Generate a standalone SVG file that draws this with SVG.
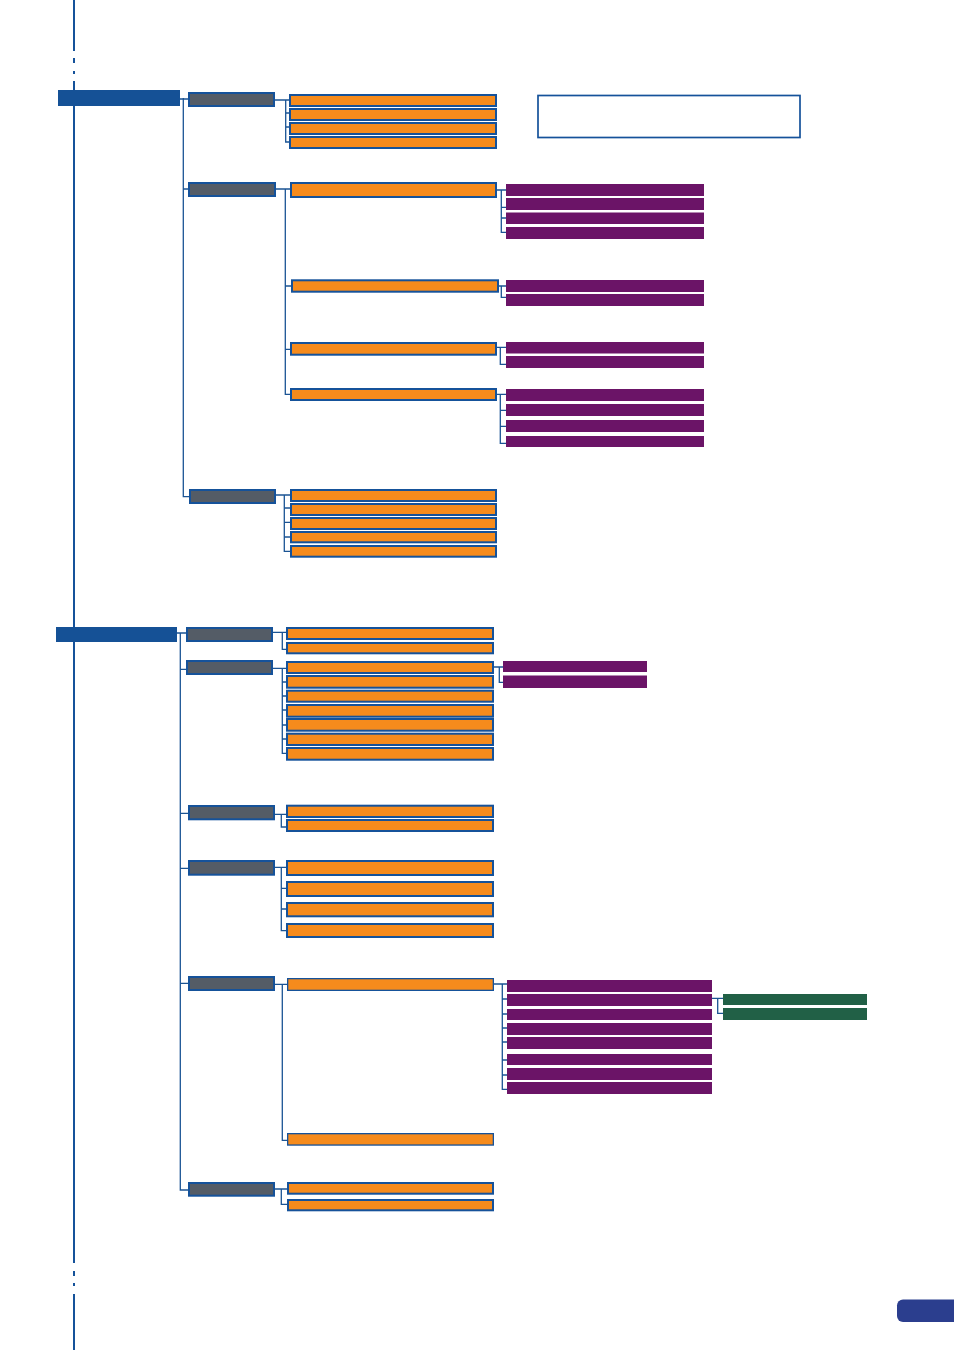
<svg xmlns="http://www.w3.org/2000/svg" width="954" height="1350" viewBox="0 0 954 1350">
<style>
.root{fill:#155196}
.g{fill:#545c66;stroke:#15529a;stroke-width:2}
.o{fill:#f68b1c;stroke:#15529a;stroke-width:2}
.ot{fill:#f68b1c;stroke:#15529a;stroke-width:1.3}
.p{fill:#6b1467}
.gr{fill:#216046}
.note{fill:#fff;stroke:#15529a;stroke-width:1.7}
.ln{fill:none;stroke:#1b5494;stroke-width:1.3}
.main{fill:none;stroke:#15529a;stroke-width:2}
</style>
<rect width="954" height="1350" fill="#fff"/>
<g id="margin-line">
<path class="main" d="M74 0V51M74 58V63M74 71V74M74 81V1263M74 1271V1276M74 1283V1286M74 1294V1350"/>
</g>
<g id="page-badge"><rect x="897" y="1299.5" width="70" height="22.5" rx="6" fill="#2b3e8e"/></g>

<g id="connectors">
<path class="ln" d="M180 99H188M183.3 98V496.7H189M183.3 189H188"/>
<path class="ln" d="M275 100H289M285.7 100V142H289M285.7 113H289M285.7 127H289"/>
<path class="ln" d="M276 189H290M285.3 189V394.3H290M285.3 286H291M285.3 349.3H290"/>
<path class="ln" d="M497 190H506M501.3 190V232.3H506M501.3 207.3H506M501.3 218H506"/>
<path class="ln" d="M499 286H506M501.3 286V297.3H506"/>
<path class="ln" d="M497 347.3H506M500.3 347.3V364.3H506"/>
<path class="ln" d="M497 394.3H506M500.3 394.3V443.3H506M500.3 410.3H506M500.3 426.3H506"/>
<path class="ln" d="M276 495H290M284.3 495V551.3H290M284.3 508H290M284.3 522.3H290M284.3 537H290"/>
<path class="ln" d="M177 633H186M180.3 633V1190H188M180.3 669.3H186M180.3 813.3H188M180.3 868.3H188M180.3 983.3H188"/>
<path class="ln" d="M273 632.3H286M282.3 632.3V649.3H286"/>
<path class="ln" d="M273 668.3H286M282.3 668.3V753.3H286M282.3 682H286M282.3 696H286M282.3 710H286M282.3 725H286M282.3 739H286"/>
<path class="ln" d="M494 667H503M499.3 667V682.3H503"/>
<path class="ln" d="M275 814.3H286M281.3 814.3V827H286"/>
<path class="ln" d="M275 867.3H286M281.3 867.3V930.7H286M281.3 888.3H286M281.3 909H286"/>
<path class="ln" d="M275 984.3H287M282.3 984.3V1140.3H287"/>
<path class="ln" d="M494 984H507M502.3 984V1089.3H507M502.3 999H507M502.3 1014H507M502.3 1028H507M502.3 1042H507M502.3 1060H507M502.3 1075H507"/>
<path class="ln" d="M712 998.3H723M717.7 998.3V1013.3H723"/>
<path class="ln" d="M275 1189H287M281.3 1189V1204.3H287"/>
</g>

<g id="root-1"><rect class="root" x="58" y="90" width="122" height="16"/></g>
<g id="note-box"><rect class="note" x="538" y="95.5" width="262" height="42"/></g>

<g id="t1"><rect class="g" x="189" y="93" width="85" height="13"/></g>
<g id="t1-items">
<rect class="o" x="290" y="95" width="206" height="11"/>
<rect class="o" x="290" y="109" width="206" height="11"/>
<rect class="o" x="290" y="123" width="206" height="11"/>
<rect class="o" x="290" y="137" width="206" height="11"/>
</g>

<g id="t2"><rect class="g" x="189" y="183" width="86" height="13"/></g>
<g id="t2a"><rect class="o" x="291" y="183" width="205" height="14"/></g>
<g id="t2a-items">
<rect class="p" x="506" y="184" width="198" height="12"/>
<rect class="p" x="506" y="198" width="198" height="12"/>
<rect class="p" x="506" y="212.5" width="198" height="11.5"/>
<rect class="p" x="506" y="227" width="198" height="12"/>
</g>
<g id="t2b"><rect class="o" x="292" y="280.3" width="206" height="11.4"/></g>
<g id="t2b-items">
<rect class="p" x="506" y="280" width="198" height="12"/>
<rect class="p" x="506" y="294" width="198" height="12"/>
</g>
<g id="t2c"><rect class="o" x="291" y="343" width="205" height="11.7"/></g>
<g id="t2c-items">
<rect class="p" x="506" y="342" width="198" height="11.5"/>
<rect class="p" x="506" y="356" width="198" height="12"/>
</g>
<g id="t2d"><rect class="o" x="291" y="389" width="205" height="11"/></g>
<g id="t2d-items">
<rect class="p" x="506" y="389" width="198" height="12"/>
<rect class="p" x="506" y="404" width="198" height="12"/>
<rect class="p" x="506" y="420" width="198" height="12"/>
<rect class="p" x="506" y="436" width="198" height="11"/>
</g>

<g id="t3"><rect class="g" x="190" y="490" width="85" height="13"/></g>
<g id="t3-items">
<rect class="o" x="291" y="490" width="205" height="11"/>
<rect class="o" x="291" y="504" width="205" height="11"/>
<rect class="o" x="291" y="518" width="205" height="11"/>
<rect class="o" x="291" y="532" width="205" height="10.3"/>
<rect class="o" x="291" y="546" width="205" height="10.7"/>
</g>

<g id="root-2"><rect class="root" x="56" y="627" width="121" height="15"/></g>

<g id="b1"><rect class="g" x="187" y="628" width="85" height="13"/></g>
<g id="b1-items">
<rect class="o" x="287" y="628" width="206" height="11"/>
<rect class="o" x="287" y="643" width="206" height="10.3"/>
</g>

<g id="b2"><rect class="g" x="187" y="661" width="85" height="13"/></g>
<g id="b2-items">
<rect class="o" x="287" y="662" width="206" height="11"/>
<rect class="o" x="287" y="676" width="206" height="11.7"/>
<rect class="o" x="287" y="690.7" width="206" height="11"/>
<rect class="o" x="287" y="705" width="206" height="11.7"/>
<rect class="o" x="287" y="719" width="206" height="11.7"/>
<rect class="o" x="287" y="733.7" width="206" height="11.3"/>
<rect class="o" x="287" y="748" width="206" height="11.7"/>
</g>
<g id="b2a-items">
<rect class="p" x="503" y="661" width="144" height="11"/>
<rect class="p" x="503" y="675.5" width="144" height="12.5"/>
</g>

<g id="b3"><rect class="g" x="189" y="806" width="85" height="13.3"/></g>
<g id="b3-items">
<rect class="o" x="287" y="805.7" width="206" height="11.3"/>
<rect class="o" x="287" y="820" width="206" height="11"/>
</g>

<g id="b4"><rect class="g" x="189" y="861" width="85" height="13.7"/></g>
<g id="b4-items">
<rect class="o" x="287" y="861" width="206" height="14"/>
<rect class="o" x="287" y="882" width="206" height="14"/>
<rect class="o" x="287" y="903" width="206" height="13.3"/>
<rect class="o" x="287" y="924" width="206" height="13"/>
</g>

<g id="b5"><rect class="g" x="189" y="977" width="85" height="13"/></g>
<g id="b5a"><rect class="ot" x="287.65" y="978.65" width="205.7" height="11.7"/></g>
<g id="b5a-items">
<rect class="p" x="507" y="980" width="205" height="12"/>
<rect class="p" x="507" y="994" width="205" height="12"/>
<rect class="p" x="507" y="1009" width="205" height="11"/>
<rect class="p" x="507" y="1023" width="205" height="12"/>
<rect class="p" x="507" y="1037" width="205" height="12"/>
<rect class="p" x="507" y="1054" width="205" height="11"/>
<rect class="p" x="507" y="1068" width="205" height="12"/>
<rect class="p" x="507" y="1082" width="205" height="12"/>
</g>
<g id="b5a2-items">
<rect class="gr" x="723" y="994" width="144" height="11"/>
<rect class="gr" x="723" y="1008" width="144" height="12"/>
</g>
<g id="b5b"><rect class="ot" x="287.65" y="1133.65" width="205.7" height="11.4"/></g>

<g id="b6"><rect class="g" x="189" y="1183" width="85" height="12.7"/></g>
<g id="b6-items">
<rect class="o" x="288" y="1183" width="205" height="10.7"/>
<rect class="o" x="288" y="1200" width="205" height="10.3"/>
</g>
</svg>
